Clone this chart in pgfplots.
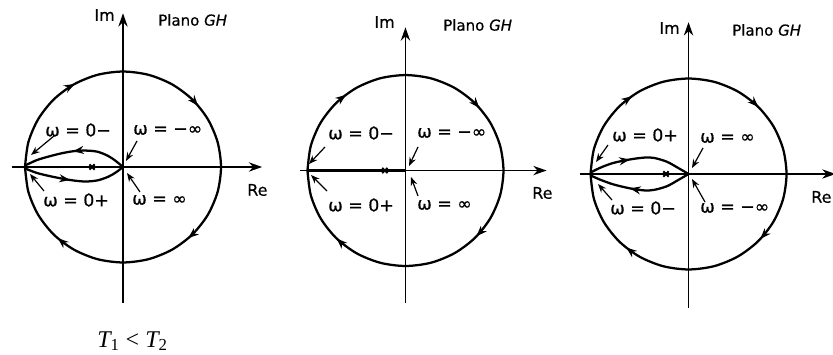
\documentclass[border=0pt]{standalone}
\usepackage{fontspec}
\setmainfont{DejaVu Sans}[FakeBold=0.6]
\newfontfamily\serif{Liberation Serif}
\usepackage{graphicx}
\usepackage{pgfplots}
\usepackage{pgfplotstable}
\pgfplotsset{compat=1.18}
\usetikzlibrary{arrows.meta,decorations.markings}

% Large semicircle mapped from the small detour: unit circle, clockwise from 180 deg
\pgfplotstableread{
x y
-1.0000 0.0000
-0.9659 0.2588
-0.8660 0.5000
-0.7071 0.7071
-0.5000 0.8660
-0.2588 0.9659
0.0000 1.0000
0.2588 0.9659
0.5000 0.8660
0.7071 0.7071
0.8660 0.5000
0.9659 0.2588
1.0000 0.0000
0.9659 -0.2588
0.8660 -0.5000
0.7071 -0.7071
0.5000 -0.8660
0.2588 -0.9659
0.0000 -1.0000
-0.2588 -0.9659
-0.5000 -0.8660
-0.7071 -0.7071
-0.8660 -0.5000
-0.9659 -0.2588
-1.0000 0.0000
}\unitcircle

% T1 < T2: upper branch (omega from -inf to 0-), lower branch (0+ to +inf)
\pgfplotstableread{
x y
0.00 0.000
-0.07 0.060
-0.15 0.115
-0.26 0.160
-0.38 0.172
-0.50 0.166
-0.62 0.145
-0.75 0.112
-0.88 0.072
-1.00 0.015
}\lobeAup
\pgfplotstableread{
x y
-1.00 -0.015
-0.88 -0.062
-0.75 -0.095
-0.62 -0.122
-0.50 -0.142
-0.38 -0.152
-0.26 -0.140
-0.15 -0.102
-0.07 -0.055
0.00 0.000
}\lobeAlow

% T1 = T2: the plot lies on the negative real axis
\pgfplotstableread{
x y
-1.00 0.00
0.00 0.00
}\segB

% T1 > T2: upper branch (0+ to +inf), lower branch (-inf to 0-)
\pgfplotstableread{
x y
-1.00 0.015
-0.90 0.066
-0.77 0.115
-0.60 0.152
-0.45 0.172
-0.35 0.168
-0.22 0.128
-0.10 0.060
0.00 0.000
}\lobeCup
\pgfplotstableread{
x y
0.00 0.000
-0.10 -0.060
-0.22 -0.128
-0.35 -0.166
-0.45 -0.172
-0.60 -0.150
-0.77 -0.108
-0.90 -0.060
-1.00 -0.015
}\lobeClow

\tikzset{
  flow/.tip={Stealth[length=8pt,width=6pt]},
  axisline/.style={line width=1.1pt,-{Stealth[length=10pt,width=7pt]}},
  pointer/.style={line width=0.9pt,-{Stealth[length=6.5pt,width=5pt]}},
  fourarrows/.style n args={4}{postaction={decorate},decoration={markings,
    mark=at position #1 with {\arrow{flow}},
    mark=at position #2 with {\arrow{flow}},
    mark=at position #3 with {\arrow{flow}},
    mark=at position #4 with {\arrow{flow}}}},
  onearrow/.style={postaction={decorate},decoration={markings,
    mark=at position #1 with {\arrow{flow}}}},
  wlab/.style={anchor=west,inner sep=0pt,font=\fontsize{13}{15}\selectfont},
  axlab/.style={inner sep=0pt,font=\fontsize{12}{14}\selectfont},
  plano/.style={anchor=west,inner sep=0pt,font=\fontsize{11.25}{13}\selectfont},
}
\pgfplotsset{
  nyq/.style={hide axis, anchor=origin, x=73.5pt, y=71.6pt, clip=false},
  curve/.style={black, line width=1.7pt, smooth, no marks},
  pole/.style={only marks, mark=x, mark size=2.8pt, mark options={line width=1.4pt, black}},
}

\begin{document}
\begin{tikzpicture}
\useasboundingbox (0,0) rectangle (624.75pt,265.5pt);

% ---- T1 < T2 ----
\begin{axis}[nyq, at={(92.25pt,140.25pt)}, xmin=-1.13, xmax=1.42, ymin=-1.42, ymax=1.61]
  \draw[axisline] (axis cs:-1.13,0) -- (axis cs:1.42,0);
  \draw[axisline] (axis cs:0,-1.42) -- (axis cs:0,1.61);
  \addplot[curve, fourarrows={0.167}{0.39}{0.633}{0.867}] table {\unitcircle};
  \addplot[curve, onearrow=0.52] table {\lobeAup};
  \addplot[curve, onearrow=0.45] table {\lobeAlow};
  \addplot[pole] coordinates {(-0.316,0)};
\end{axis}

% ---- T1 = T2 ----
\begin{axis}[nyq, at={(304.1pt,137.6pt)}, xmin=-1.08, xmax=1.44, ymin=-1.39, ymax=1.50]
  \draw[axisline] (axis cs:-1.08,0) -- (axis cs:1.44,0);
  \draw[axisline] (axis cs:0,-1.39) -- (axis cs:0,1.50);
  \addplot[curve, fourarrows={0.145}{0.387}{0.62}{0.875}] table {\unitcircle};
  \addplot[curve, sharp plot] table {\segB};
  \addplot[pole] coordinates {(-0.21,0)};
\end{axis}

% ---- T1 > T2 ----
\begin{axis}[nyq, at={(516.4pt,135pt)}, xmin=-1.11, xmax=1.50, ymin=-1.40, ymax=1.59]
  \draw[axisline] (axis cs:-1.11,0) -- (axis cs:1.50,0);
  \draw[axisline] (axis cs:0,-1.40) -- (axis cs:0,1.59);
  \addplot[curve, fourarrows={0.151}{0.377}{0.618}{0.861}] table {\unitcircle};
  \addplot[curve, onearrow=0.40] table {\lobeCup};
  \addplot[curve, onearrow=0.60] table {\lobeClow};
  \addplot[pole] coordinates {(-0.23,0)};
\end{axis}

% Annotations
\begin{scope}[x=0.75pt, y=-0.75pt, yshift=265.5pt]
  % left
  \node[axlab, anchor=east] at (115,15) {Im};
  \node[axlab, anchor=west] at (247,190) {Re};
  \node[plano] at (158,20) {Plano \textit{GH}};
  \node[wlab] at (45,130) {ω = 0−};
  \node[wlab] at (133,130) {ω = −∞};
  \node[wlab] at (43,200) {ω = 0+};
  \node[wlab] at (132,200) {ω = ∞};
  \draw[pointer] (54,136) -- (31,155);
  \draw[pointer] (137,141) -- (126,161);
  \draw[pointer] (44,191) -- (30,174);
  \draw[pointer] (140,192) -- (127,173);
  \node[anchor=base, inner sep=0pt, font=\serif\fontsize{18}{20}\selectfont] at (132.5,347)
    {\itshape T\textsubscript{\upshape 1}\upshape\ <\ \itshape T\textsubscript{\upshape 2}};
  % middle
  \node[axlab, anchor=east] at (395,22) {Im};
  \node[axlab, anchor=west] at (532,193) {Re};
  \node[plano] at (443,25) {Plano \textit{GH}};
  \node[wlab] at (328,133) {ω = 0−};
  \node[wlab] at (417,133) {ω = −∞};
  \node[wlab] at (328,205) {ω = 0+};
  \node[wlab] at (417,205) {ω = ∞};
  \draw[pointer] (325,147) -- (309,164);
  \draw[pointer] (418,147) -- (409,166);
  \draw[pointer] (327,191) -- (311,175);
  \draw[pointer] (418,196) -- (411,177);
  % right
  \node[axlab, anchor=east] at (680,28) {Im};
  \node[axlab, anchor=west] at (811,197) {Re};
  \node[plano] at (732,30) {Plano \textit{GH}};
  \node[wlab] at (612,135) {ω = 0+};
  \node[wlab] at (700,138) {ω = ∞};
  \node[wlab] at (610,208) {ω = 0−};
  \node[wlab] at (700,208) {ω = −∞};
  \draw[pointer] (608,145) -- (596,162);
  \draw[pointer] (703,148) -- (692,168);
  \draw[pointer] (612,200) -- (598,184);
  \draw[pointer] (705,202) -- (692,179);
\end{scope}
\end{tikzpicture}
\end{document}
